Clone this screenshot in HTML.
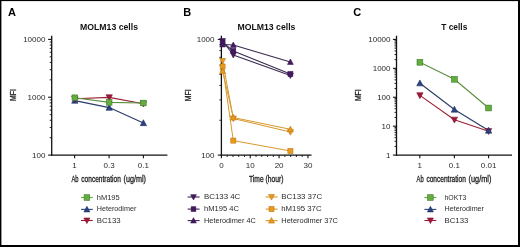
<!DOCTYPE html>
<html><head><meta charset="utf-8"><style>
html,body{margin:0;padding:0;background:#fff;width:520px;height:247px;overflow:hidden;}
svg{display:block;font-family:"Liberation Sans",sans-serif;filter:blur(0.3px);}
</style></head><body>
<svg width="520" height="247" viewBox="0 0 520 247" font-family="Liberation Sans, sans-serif">
<rect x="0" y="0" width="520" height="247" fill="#fff"/>
<rect x="0" y="0" width="520" height="1.1" fill="#000"/>
<rect x="0" y="0" width="1.4" height="247" fill="#000"/>
<rect x="518" y="0" width="2" height="247" fill="#000"/>
<rect x="0" y="245" width="520" height="2" fill="#000"/>
<text x="8.1" y="15.9" font-size="11" text-anchor="start" font-weight="bold" fill="#000" >A</text>
<text x="183.2" y="16.0" font-size="11" text-anchor="start" font-weight="bold" fill="#000" >B</text>
<text x="353.3" y="16.0" font-size="11" text-anchor="start" font-weight="bold" fill="#000" >C</text>
<text x="80" y="29.6" font-size="8.4" text-anchor="start" font-weight="bold" fill="#111" textLength="58" lengthAdjust="spacingAndGlyphs" >MOLM13 cells</text>
<text x="237.4" y="29.6" font-size="8.4" text-anchor="start" font-weight="bold" fill="#111" textLength="58" lengthAdjust="spacingAndGlyphs" >MOLM13 cells</text>
<text x="441.3" y="29.6" font-size="8.4" text-anchor="start" font-weight="bold" fill="#111" textLength="26" lengthAdjust="spacingAndGlyphs" >T cells</text>
<line x1="51.7" y1="35.7" x2="51.7" y2="155.7" stroke="#111" stroke-width="1.3"/>
<line x1="48.1" y1="39.4" x2="51.7" y2="39.4" stroke="#111" stroke-width="1.1"/>
<text x="45.4" y="42.199999999999996" font-size="8" text-anchor="end" font-weight="normal" fill="#2a2a2a" >10000</text>
<line x1="48.1" y1="97.25" x2="51.7" y2="97.25" stroke="#111" stroke-width="1.1"/>
<text x="45.4" y="100.05" font-size="8" text-anchor="end" font-weight="normal" fill="#2a2a2a" >1000</text>
<line x1="48.1" y1="155.1" x2="51.7" y2="155.1" stroke="#111" stroke-width="1.1"/>
<text x="45.4" y="157.9" font-size="8" text-anchor="end" font-weight="normal" fill="#2a2a2a" >100</text>
<line x1="49.7" y1="79.83541475083868" x2="51.7" y2="79.83541475083868" stroke="#111" stroke-width="0.9"/>
<line x1="49.7" y1="69.64853541446753" x2="51.7" y2="69.64853541446753" stroke="#111" stroke-width="0.9"/>
<line x1="49.7" y1="62.420829501677375" x2="51.7" y2="62.420829501677375" stroke="#111" stroke-width="0.9"/>
<line x1="49.7" y1="56.81458524916131" x2="51.7" y2="56.81458524916131" stroke="#111" stroke-width="0.9"/>
<line x1="49.7" y1="52.23395016530621" x2="51.7" y2="52.23395016530621" stroke="#111" stroke-width="0.9"/>
<line x1="49.7" y1="48.36107838517524" x2="51.7" y2="48.36107838517524" stroke="#111" stroke-width="0.9"/>
<line x1="49.7" y1="45.00624425251606" x2="51.7" y2="45.00624425251606" stroke="#111" stroke-width="0.9"/>
<line x1="49.7" y1="42.047070828935055" x2="51.7" y2="42.047070828935055" stroke="#111" stroke-width="0.9"/>
<line x1="49.7" y1="137.68541475083867" x2="51.7" y2="137.68541475083867" stroke="#111" stroke-width="0.9"/>
<line x1="49.7" y1="127.49853541446753" x2="51.7" y2="127.49853541446753" stroke="#111" stroke-width="0.9"/>
<line x1="49.7" y1="120.27082950167738" x2="51.7" y2="120.27082950167738" stroke="#111" stroke-width="0.9"/>
<line x1="49.7" y1="114.6645852491613" x2="51.7" y2="114.6645852491613" stroke="#111" stroke-width="0.9"/>
<line x1="49.7" y1="110.08395016530622" x2="51.7" y2="110.08395016530622" stroke="#111" stroke-width="0.9"/>
<line x1="49.7" y1="106.21107838517524" x2="51.7" y2="106.21107838517524" stroke="#111" stroke-width="0.9"/>
<line x1="49.7" y1="102.85624425251606" x2="51.7" y2="102.85624425251606" stroke="#111" stroke-width="0.9"/>
<line x1="49.7" y1="99.89707082893506" x2="51.7" y2="99.89707082893506" stroke="#111" stroke-width="0.9"/>
<line x1="51.1" y1="155.1" x2="167.4" y2="155.1" stroke="#111" stroke-width="1.3"/>
<line x1="74.6" y1="155.1" x2="74.6" y2="158.29999999999998" stroke="#111" stroke-width="1.1"/>
<text x="74.6" y="168.2" font-size="8" text-anchor="middle" font-weight="normal" fill="#2a2a2a" >1</text>
<line x1="109.1" y1="155.1" x2="109.1" y2="158.29999999999998" stroke="#111" stroke-width="1.1"/>
<text x="109.1" y="168.2" font-size="8" text-anchor="middle" font-weight="normal" fill="#2a2a2a" >0.3</text>
<line x1="143.4" y1="155.1" x2="143.4" y2="158.29999999999998" stroke="#111" stroke-width="1.1"/>
<text x="143.4" y="168.2" font-size="8" text-anchor="middle" font-weight="normal" fill="#2a2a2a" >0.1</text>
<text x="71.4" y="181.6" font-size="9.0" text-anchor="start" font-weight="normal" fill="#1a1a1a" textLength="7.1" lengthAdjust="spacingAndGlyphs" stroke="#1a1a1a" stroke-width="0.3" >Ab</text>
<text x="81.3" y="181.6" font-size="9.0" text-anchor="start" font-weight="normal" fill="#1a1a1a" textLength="39.5" lengthAdjust="spacingAndGlyphs" stroke="#1a1a1a" stroke-width="0.3" >concentration</text>
<text x="123.6" y="181.6" font-size="9.0" text-anchor="start" font-weight="normal" fill="#1a1a1a" textLength="22.4" lengthAdjust="spacingAndGlyphs" stroke="#1a1a1a" stroke-width="0.3" >(ug/ml)</text>
<text x="0" y="0" font-size="8.2" font-weight="normal" stroke="#222" stroke-width="0.3" text-anchor="middle" fill="#222" textLength="11.8" lengthAdjust="spacingAndGlyphs" transform="translate(15.8,95.0) rotate(-90)">MFI</text>
<line x1="221.4" y1="35.7" x2="221.4" y2="155.7" stroke="#111" stroke-width="1.3"/>
<line x1="217.8" y1="39.4" x2="221.4" y2="39.4" stroke="#111" stroke-width="1.1"/>
<text x="214.5" y="42.199999999999996" font-size="8" text-anchor="end" font-weight="normal" fill="#2a2a2a" >1000</text>
<line x1="217.8" y1="155.1" x2="221.4" y2="155.1" stroke="#111" stroke-width="1.1"/>
<text x="214.5" y="157.9" font-size="8" text-anchor="end" font-weight="normal" fill="#2a2a2a" >100</text>
<line x1="219.4" y1="120.27082950167738" x2="221.4" y2="120.27082950167738" stroke="#111" stroke-width="0.9"/>
<line x1="219.4" y1="99.89707082893506" x2="221.4" y2="99.89707082893506" stroke="#111" stroke-width="0.9"/>
<line x1="219.4" y1="85.44165900335476" x2="221.4" y2="85.44165900335476" stroke="#111" stroke-width="0.9"/>
<line x1="219.4" y1="74.22917049832262" x2="221.4" y2="74.22917049832262" stroke="#111" stroke-width="0.9"/>
<line x1="219.4" y1="65.06790033061243" x2="221.4" y2="65.06790033061243" stroke="#111" stroke-width="0.9"/>
<line x1="219.4" y1="57.32215677035049" x2="221.4" y2="57.32215677035049" stroke="#111" stroke-width="0.9"/>
<line x1="219.4" y1="50.61248850503213" x2="221.4" y2="50.61248850503213" stroke="#111" stroke-width="0.9"/>
<line x1="219.4" y1="44.69414165787012" x2="221.4" y2="44.69414165787012" stroke="#111" stroke-width="0.9"/>
<line x1="220.8" y1="155.1" x2="311.5" y2="155.1" stroke="#111" stroke-width="1.3"/>
<line x1="221.4" y1="155.1" x2="221.4" y2="158.29999999999998" stroke="#111" stroke-width="1.1"/>
<text x="221.4" y="168.2" font-size="8" text-anchor="middle" font-weight="normal" fill="#2a2a2a" >0</text>
<line x1="227.17000000000002" y1="155.1" x2="227.17000000000002" y2="157.0" stroke="#111" stroke-width="0.9"/>
<line x1="232.94" y1="155.1" x2="232.94" y2="157.0" stroke="#111" stroke-width="0.9"/>
<line x1="238.71" y1="155.1" x2="238.71" y2="157.0" stroke="#111" stroke-width="0.9"/>
<line x1="244.48000000000002" y1="155.1" x2="244.48000000000002" y2="157.0" stroke="#111" stroke-width="0.9"/>
<line x1="250.25" y1="155.1" x2="250.25" y2="158.29999999999998" stroke="#111" stroke-width="1.1"/>
<text x="250.25" y="168.2" font-size="8" text-anchor="middle" font-weight="normal" fill="#2a2a2a" >10</text>
<line x1="256.02" y1="155.1" x2="256.02" y2="157.0" stroke="#111" stroke-width="0.9"/>
<line x1="261.79" y1="155.1" x2="261.79" y2="157.0" stroke="#111" stroke-width="0.9"/>
<line x1="267.56" y1="155.1" x2="267.56" y2="157.0" stroke="#111" stroke-width="0.9"/>
<line x1="273.33" y1="155.1" x2="273.33" y2="157.0" stroke="#111" stroke-width="0.9"/>
<line x1="279.1" y1="155.1" x2="279.1" y2="158.29999999999998" stroke="#111" stroke-width="1.1"/>
<text x="279.1" y="168.2" font-size="8" text-anchor="middle" font-weight="normal" fill="#2a2a2a" >20</text>
<line x1="284.87" y1="155.1" x2="284.87" y2="157.0" stroke="#111" stroke-width="0.9"/>
<line x1="290.64" y1="155.1" x2="290.64" y2="157.0" stroke="#111" stroke-width="0.9"/>
<line x1="296.40999999999997" y1="155.1" x2="296.40999999999997" y2="157.0" stroke="#111" stroke-width="0.9"/>
<line x1="302.18" y1="155.1" x2="302.18" y2="157.0" stroke="#111" stroke-width="0.9"/>
<line x1="307.95" y1="155.1" x2="307.95" y2="158.29999999999998" stroke="#111" stroke-width="1.1"/>
<text x="307.95" y="168.2" font-size="8" text-anchor="middle" font-weight="normal" fill="#2a2a2a" >30</text>
<text x="249.0" y="181.5" font-size="8.9" text-anchor="start" font-weight="normal" fill="#1a1a1a" textLength="14.6" lengthAdjust="spacingAndGlyphs" stroke="#1a1a1a" stroke-width="0.3" >Time</text>
<text x="265.6" y="181.5" font-size="8.9" text-anchor="start" font-weight="normal" fill="#1a1a1a" textLength="17.9" lengthAdjust="spacingAndGlyphs" stroke="#1a1a1a" stroke-width="0.3" >(hour)</text>
<text x="0" y="0" font-size="8.2" font-weight="normal" stroke="#222" stroke-width="0.3" text-anchor="middle" fill="#222" textLength="11.8" lengthAdjust="spacingAndGlyphs" transform="translate(190.6,95.3) rotate(-90)">MFI</text>
<line x1="396.5" y1="35.7" x2="396.5" y2="155.7" stroke="#111" stroke-width="1.3"/>
<line x1="392.9" y1="39.4" x2="396.5" y2="39.4" stroke="#111" stroke-width="1.1"/>
<text x="390.5" y="42.199999999999996" font-size="8" text-anchor="end" font-weight="normal" fill="#2a2a2a" >10000</text>
<line x1="392.9" y1="68.32499999999999" x2="396.5" y2="68.32499999999999" stroke="#111" stroke-width="1.1"/>
<text x="390.5" y="71.12499999999999" font-size="8" text-anchor="end" font-weight="normal" fill="#2a2a2a" >1000</text>
<line x1="392.9" y1="97.25" x2="396.5" y2="97.25" stroke="#111" stroke-width="1.1"/>
<text x="390.5" y="100.05" font-size="8" text-anchor="end" font-weight="normal" fill="#2a2a2a" >100</text>
<line x1="392.9" y1="126.17499999999998" x2="396.5" y2="126.17499999999998" stroke="#111" stroke-width="1.1"/>
<text x="390.5" y="128.975" font-size="8" text-anchor="end" font-weight="normal" fill="#2a2a2a" >10</text>
<line x1="392.9" y1="155.1" x2="396.5" y2="155.1" stroke="#111" stroke-width="1.1"/>
<text x="390.5" y="157.9" font-size="8" text-anchor="end" font-weight="normal" fill="#2a2a2a" >1</text>
<line x1="394.5" y1="59.617707375419336" x2="396.5" y2="59.617707375419336" stroke="#111" stroke-width="0.9"/>
<line x1="394.5" y1="54.52426770723376" x2="396.5" y2="54.52426770723376" stroke="#111" stroke-width="0.9"/>
<line x1="394.5" y1="50.91041475083868" x2="396.5" y2="50.91041475083868" stroke="#111" stroke-width="0.9"/>
<line x1="394.5" y1="48.10729262458065" x2="396.5" y2="48.10729262458065" stroke="#111" stroke-width="0.9"/>
<line x1="394.5" y1="45.8169750826531" x2="396.5" y2="45.8169750826531" stroke="#111" stroke-width="0.9"/>
<line x1="394.5" y1="43.88053919258762" x2="396.5" y2="43.88053919258762" stroke="#111" stroke-width="0.9"/>
<line x1="394.5" y1="42.20312212625803" x2="396.5" y2="42.20312212625803" stroke="#111" stroke-width="0.9"/>
<line x1="394.5" y1="40.72353541446753" x2="396.5" y2="40.72353541446753" stroke="#111" stroke-width="0.9"/>
<line x1="394.5" y1="88.54270737541934" x2="396.5" y2="88.54270737541934" stroke="#111" stroke-width="0.9"/>
<line x1="394.5" y1="83.44926770723376" x2="396.5" y2="83.44926770723376" stroke="#111" stroke-width="0.9"/>
<line x1="394.5" y1="79.83541475083868" x2="396.5" y2="79.83541475083868" stroke="#111" stroke-width="0.9"/>
<line x1="394.5" y1="77.03229262458065" x2="396.5" y2="77.03229262458065" stroke="#111" stroke-width="0.9"/>
<line x1="394.5" y1="74.7419750826531" x2="396.5" y2="74.7419750826531" stroke="#111" stroke-width="0.9"/>
<line x1="394.5" y1="72.80553919258762" x2="396.5" y2="72.80553919258762" stroke="#111" stroke-width="0.9"/>
<line x1="394.5" y1="71.12812212625802" x2="396.5" y2="71.12812212625802" stroke="#111" stroke-width="0.9"/>
<line x1="394.5" y1="69.64853541446752" x2="396.5" y2="69.64853541446752" stroke="#111" stroke-width="0.9"/>
<line x1="394.5" y1="117.46770737541934" x2="396.5" y2="117.46770737541934" stroke="#111" stroke-width="0.9"/>
<line x1="394.5" y1="112.37426770723376" x2="396.5" y2="112.37426770723376" stroke="#111" stroke-width="0.9"/>
<line x1="394.5" y1="108.76041475083868" x2="396.5" y2="108.76041475083868" stroke="#111" stroke-width="0.9"/>
<line x1="394.5" y1="105.95729262458065" x2="396.5" y2="105.95729262458065" stroke="#111" stroke-width="0.9"/>
<line x1="394.5" y1="103.6669750826531" x2="396.5" y2="103.6669750826531" stroke="#111" stroke-width="0.9"/>
<line x1="394.5" y1="101.73053919258763" x2="396.5" y2="101.73053919258763" stroke="#111" stroke-width="0.9"/>
<line x1="394.5" y1="100.05312212625803" x2="396.5" y2="100.05312212625803" stroke="#111" stroke-width="0.9"/>
<line x1="394.5" y1="98.57353541446753" x2="396.5" y2="98.57353541446753" stroke="#111" stroke-width="0.9"/>
<line x1="394.5" y1="146.39270737541932" x2="396.5" y2="146.39270737541932" stroke="#111" stroke-width="0.9"/>
<line x1="394.5" y1="141.29926770723375" x2="396.5" y2="141.29926770723375" stroke="#111" stroke-width="0.9"/>
<line x1="394.5" y1="137.68541475083867" x2="396.5" y2="137.68541475083867" stroke="#111" stroke-width="0.9"/>
<line x1="394.5" y1="134.88229262458063" x2="396.5" y2="134.88229262458063" stroke="#111" stroke-width="0.9"/>
<line x1="394.5" y1="132.5919750826531" x2="396.5" y2="132.5919750826531" stroke="#111" stroke-width="0.9"/>
<line x1="394.5" y1="130.6555391925876" x2="396.5" y2="130.6555391925876" stroke="#111" stroke-width="0.9"/>
<line x1="394.5" y1="128.97812212625803" x2="396.5" y2="128.97812212625803" stroke="#111" stroke-width="0.9"/>
<line x1="394.5" y1="127.49853541446751" x2="396.5" y2="127.49853541446751" stroke="#111" stroke-width="0.9"/>
<line x1="395.9" y1="155.1" x2="512.0" y2="155.1" stroke="#111" stroke-width="1.3"/>
<line x1="419.8" y1="155.1" x2="419.8" y2="158.29999999999998" stroke="#111" stroke-width="1.1"/>
<text x="419.8" y="168.2" font-size="8" text-anchor="middle" font-weight="normal" fill="#2a2a2a" >1</text>
<line x1="454.4" y1="155.1" x2="454.4" y2="158.29999999999998" stroke="#111" stroke-width="1.1"/>
<text x="454.4" y="168.2" font-size="8" text-anchor="middle" font-weight="normal" fill="#2a2a2a" >0.1</text>
<line x1="488.6" y1="155.1" x2="488.6" y2="158.29999999999998" stroke="#111" stroke-width="1.1"/>
<text x="488.6" y="168.2" font-size="8" text-anchor="middle" font-weight="normal" fill="#2a2a2a" >0.01</text>
<text x="416.6" y="181.6" font-size="9.0" text-anchor="start" font-weight="normal" fill="#1a1a1a" textLength="7.1" lengthAdjust="spacingAndGlyphs" stroke="#1a1a1a" stroke-width="0.3" >Ab</text>
<text x="426.4" y="181.6" font-size="9.0" text-anchor="start" font-weight="normal" fill="#1a1a1a" textLength="39.5" lengthAdjust="spacingAndGlyphs" stroke="#1a1a1a" stroke-width="0.3" >concentration</text>
<text x="468.6" y="181.6" font-size="9.0" text-anchor="start" font-weight="normal" fill="#1a1a1a" textLength="22.8" lengthAdjust="spacingAndGlyphs" stroke="#1a1a1a" stroke-width="0.3" >(ug/ml)</text>
<text x="0" y="0" font-size="8.2" font-weight="normal" stroke="#222" stroke-width="0.3" text-anchor="middle" fill="#222" textLength="11.8" lengthAdjust="spacingAndGlyphs" transform="translate(360.8,95.2) rotate(-90)">MFI</text>
<polyline points="74.80,98.80 109.20,97.40 143.40,103.80" fill="none" stroke="#9a2236" stroke-width="1.15" stroke-linejoin="round"/>
<polyline points="74.80,97.70 109.20,102.40 143.40,103.00" fill="none" stroke="#5a9040" stroke-width="1.15" stroke-linejoin="round"/>
<polyline points="74.80,100.60 109.20,107.60 143.40,123.00" fill="none" stroke="#2b3c68" stroke-width="1.15" stroke-linejoin="round"/>
<polygon points="74.80,97.35 77.95,103.25 71.65,103.25" fill="#2b4383" stroke="#1d2d5c" stroke-width="0.6"/>
<polygon points="109.20,104.35 112.35,110.25 106.05,110.25" fill="#2b4383" stroke="#1d2d5c" stroke-width="0.6"/>
<polygon points="143.40,119.75 146.55,125.65 140.25,125.65" fill="#2b4383" stroke="#1d2d5c" stroke-width="0.6"/>
<polygon points="71.65,96.15 77.95,96.15 74.80,102.05" fill="#a3163a" stroke="#7a1028" stroke-width="0.6"/>
<polygon points="106.05,94.75 112.35,94.75 109.20,100.65" fill="#a3163a" stroke="#7a1028" stroke-width="0.6"/>
<polygon points="140.25,101.15 146.55,101.15 143.40,107.05" fill="#a3163a" stroke="#7a1028" stroke-width="0.6"/>
<rect x="72.00" y="94.90" width="5.60" height="5.60" fill="#62ad3e" stroke="#3f7a2a" stroke-width="0.6"/>
<rect x="106.40" y="99.60" width="5.60" height="5.60" fill="#62ad3e" stroke="#3f7a2a" stroke-width="0.6"/>
<rect x="140.60" y="100.20" width="5.60" height="5.60" fill="#62ad3e" stroke="#3f7a2a" stroke-width="0.6"/>
<polyline points="222.60,71.00 233.30,117.50 290.40,129.30" fill="none" stroke="#d9982c" stroke-width="1.0" stroke-linejoin="round"/>
<polyline points="222.60,66.50 233.30,140.60 290.40,151.00" fill="none" stroke="#d9982c" stroke-width="1.0" stroke-linejoin="round"/>
<polyline points="222.60,61.00 233.30,118.50 290.40,132.00" fill="none" stroke="#d9982c" stroke-width="1.0" stroke-linejoin="round"/>
<polyline points="222.60,44.50 233.30,45.00 290.40,62.00" fill="none" stroke="#3a2a50" stroke-width="1.1" stroke-linejoin="round"/>
<polyline points="222.60,42.50 233.30,51.00 290.40,74.00" fill="none" stroke="#3a2a50" stroke-width="1.1" stroke-linejoin="round"/>
<polyline points="222.60,41.00 233.30,55.00 290.40,75.50" fill="none" stroke="#3a2a50" stroke-width="1.1" stroke-linejoin="round"/>
<polygon points="219.60,58.50 225.60,58.50 222.60,64.10" fill="#e79a1d" stroke="#c07a10" stroke-width="0.6"/>
<polygon points="230.25,115.95 236.35,115.95 233.30,121.65" fill="#e79a1d" stroke="#c07a10" stroke-width="0.6"/>
<polygon points="287.35,129.45 293.45,129.45 290.40,135.15" fill="#e79a1d" stroke="#c07a10" stroke-width="0.6"/>
<rect x="220.10" y="64.00" width="5.00" height="5.00" fill="#e79a1d" stroke="#c07a10" stroke-width="0.6"/>
<rect x="230.75" y="138.05" width="5.10" height="5.10" fill="#e79a1d" stroke="#c07a10" stroke-width="0.6"/>
<rect x="287.85" y="148.45" width="5.10" height="5.10" fill="#e79a1d" stroke="#c07a10" stroke-width="0.6"/>
<polygon points="222.60,67.90 225.60,73.50 219.60,73.50" fill="#e79a1d" stroke="#c07a10" stroke-width="0.6"/>
<polygon points="233.30,114.35 236.35,120.05 230.25,120.05" fill="#e79a1d" stroke="#c07a10" stroke-width="0.6"/>
<polygon points="290.40,126.15 293.45,131.85 287.35,131.85" fill="#e79a1d" stroke="#c07a10" stroke-width="0.6"/>
<polygon points="219.70,38.60 225.50,38.60 222.60,44.00" fill="#45195f" stroke="#351450" stroke-width="0.6"/>
<polygon points="230.40,52.60 236.20,52.60 233.30,58.00" fill="#45195f" stroke="#351450" stroke-width="0.6"/>
<polygon points="287.50,73.10 293.30,73.10 290.40,78.50" fill="#45195f" stroke="#351450" stroke-width="0.6"/>
<rect x="220.15" y="40.05" width="4.90" height="4.90" fill="#45195f" stroke="#351450" stroke-width="0.6"/>
<rect x="230.85" y="48.55" width="4.90" height="4.90" fill="#45195f" stroke="#351450" stroke-width="0.6"/>
<rect x="287.95" y="71.55" width="4.90" height="4.90" fill="#45195f" stroke="#351450" stroke-width="0.6"/>
<polygon points="222.60,41.50 225.50,46.90 219.70,46.90" fill="#45195f" stroke="#351450" stroke-width="0.6"/>
<polygon points="233.30,42.00 236.20,47.40 230.40,47.40" fill="#45195f" stroke="#351450" stroke-width="0.6"/>
<polygon points="290.40,59.00 293.30,64.40 287.50,64.40" fill="#45195f" stroke="#351450" stroke-width="0.6"/>
<polyline points="419.90,62.30 454.40,79.30 488.60,108.00" fill="none" stroke="#5a9040" stroke-width="1.15" stroke-linejoin="round"/>
<polyline points="419.90,95.40 454.40,119.80 488.60,131.20" fill="none" stroke="#9a2236" stroke-width="1.15" stroke-linejoin="round"/>
<polyline points="419.90,83.20 454.40,109.50 488.60,130.50" fill="none" stroke="#2b3c68" stroke-width="1.15" stroke-linejoin="round"/>
<polygon points="416.75,92.75 423.05,92.75 419.90,98.65" fill="#a3163a" stroke="#7a1028" stroke-width="0.6"/>
<polygon points="451.25,117.15 457.55,117.15 454.40,123.05" fill="#a3163a" stroke="#7a1028" stroke-width="0.6"/>
<polygon points="485.45,128.55 491.75,128.55 488.60,134.45" fill="#a3163a" stroke="#7a1028" stroke-width="0.6"/>
<polygon points="419.90,79.95 423.05,85.85 416.75,85.85" fill="#2b4383" stroke="#1d2d5c" stroke-width="0.6"/>
<polygon points="454.40,106.25 457.55,112.15 451.25,112.15" fill="#2b4383" stroke="#1d2d5c" stroke-width="0.6"/>
<polygon points="488.60,127.25 491.75,133.15 485.45,133.15" fill="#2b4383" stroke="#1d2d5c" stroke-width="0.6"/>
<rect x="417.00" y="59.40" width="5.80" height="5.80" fill="#62ad3e" stroke="#3f7a2a" stroke-width="0.6"/>
<rect x="451.50" y="76.40" width="5.80" height="5.80" fill="#62ad3e" stroke="#3f7a2a" stroke-width="0.6"/>
<rect x="485.70" y="105.10" width="5.80" height="5.80" fill="#62ad3e" stroke="#3f7a2a" stroke-width="0.6"/>
<line x1="81.0" y1="197.5" x2="92.8" y2="197.5" stroke="#62ad3e" stroke-width="1.1"/>
<rect x="84.10" y="194.70" width="5.60" height="5.60" fill="#62ad3e" stroke="#3f7a2a" stroke-width="0.6"/>
<text x="96.8" y="199.5" font-size="7.6" text-anchor="start" font-weight="normal" fill="#2a2a2a" textLength="22.9" lengthAdjust="spacingAndGlyphs" >hM195</text>
<line x1="81.0" y1="209.4" x2="92.8" y2="209.4" stroke="#2b4383" stroke-width="1.1"/>
<polygon points="86.90,206.30 89.90,211.90 83.90,211.90" fill="#2b4383" stroke="#1d2d5c" stroke-width="0.6"/>
<text x="96.8" y="211.4" font-size="7.6" text-anchor="start" font-weight="normal" fill="#2a2a2a" textLength="39.5" lengthAdjust="spacingAndGlyphs" >Heterodimer</text>
<line x1="81.0" y1="220.5" x2="92.8" y2="220.5" stroke="#a3163a" stroke-width="1.1"/>
<polygon points="83.90,218.00 89.90,218.00 86.90,223.60" fill="#a3163a" stroke="#7a1028" stroke-width="0.6"/>
<text x="96.8" y="222.5" font-size="7.6" text-anchor="start" font-weight="normal" fill="#2a2a2a" textLength="23.8" lengthAdjust="spacingAndGlyphs" >BC133</text>
<line x1="424.4" y1="197.5" x2="436.3" y2="197.5" stroke="#62ad3e" stroke-width="1.1"/>
<rect x="427.60" y="194.70" width="5.60" height="5.60" fill="#62ad3e" stroke="#3f7a2a" stroke-width="0.6"/>
<text x="444.5" y="199.5" font-size="7.6" text-anchor="start" font-weight="normal" fill="#2a2a2a" textLength="21.9" lengthAdjust="spacingAndGlyphs" >hOKT3</text>
<line x1="424.4" y1="209.4" x2="436.3" y2="209.4" stroke="#2b4383" stroke-width="1.1"/>
<polygon points="430.40,206.30 433.40,211.90 427.40,211.90" fill="#2b4383" stroke="#1d2d5c" stroke-width="0.6"/>
<text x="444.5" y="211.4" font-size="7.6" text-anchor="start" font-weight="normal" fill="#2a2a2a" textLength="39.5" lengthAdjust="spacingAndGlyphs" >Heterodimer</text>
<line x1="424.4" y1="220.5" x2="436.3" y2="220.5" stroke="#a3163a" stroke-width="1.1"/>
<polygon points="427.40,218.00 433.40,218.00 430.40,223.60" fill="#a3163a" stroke="#7a1028" stroke-width="0.6"/>
<text x="444.5" y="222.5" font-size="7.6" text-anchor="start" font-weight="normal" fill="#2a2a2a" textLength="23.8" lengthAdjust="spacingAndGlyphs" >BC133</text>
<line x1="187.6" y1="197.0" x2="199.6" y2="197.0" stroke="#3a2a50" stroke-width="1.1"/>
<polygon points="190.65,194.65 196.35,194.65 193.50,199.95" fill="#45195f" stroke="#351450" stroke-width="0.6"/>
<text x="204.0" y="199.0" font-size="7.6" text-anchor="start" font-weight="normal" fill="#2a2a2a" textLength="36.3" lengthAdjust="spacingAndGlyphs" >BC133 4C</text>
<line x1="187.6" y1="209.1" x2="199.6" y2="209.1" stroke="#3a2a50" stroke-width="1.1"/>
<rect x="191.15" y="206.75" width="4.70" height="4.70" fill="#45195f" stroke="#351450" stroke-width="0.6"/>
<text x="204.0" y="211.1" font-size="7.6" text-anchor="start" font-weight="normal" fill="#2a2a2a" textLength="34.9" lengthAdjust="spacingAndGlyphs" >hM195 4C</text>
<line x1="187.6" y1="220.6" x2="199.6" y2="220.6" stroke="#3a2a50" stroke-width="1.1"/>
<polygon points="193.50,217.65 196.35,222.95 190.65,222.95" fill="#45195f" stroke="#351450" stroke-width="0.6"/>
<text x="204.0" y="222.6" font-size="7.6" text-anchor="start" font-weight="normal" fill="#2a2a2a" textLength="51.8" lengthAdjust="spacingAndGlyphs" >Heterodimer 4C</text>
<line x1="265.6" y1="197.0" x2="277.6" y2="197.0" stroke="#d9982c" stroke-width="1.1"/>
<polygon points="268.50,194.50 274.50,194.50 271.50,200.10" fill="#e79a1d" stroke="#c07a10" stroke-width="0.6"/>
<text x="281.3" y="199.0" font-size="7.6" text-anchor="start" font-weight="normal" fill="#2a2a2a" textLength="40.8" lengthAdjust="spacingAndGlyphs" >BC133 37C</text>
<line x1="265.6" y1="209.1" x2="277.6" y2="209.1" stroke="#d9982c" stroke-width="1.1"/>
<rect x="269.00" y="206.60" width="5.00" height="5.00" fill="#e79a1d" stroke="#c07a10" stroke-width="0.6"/>
<text x="281.3" y="211.1" font-size="7.6" text-anchor="start" font-weight="normal" fill="#2a2a2a" textLength="40.2" lengthAdjust="spacingAndGlyphs" >hM195 37C</text>
<line x1="265.6" y1="220.6" x2="277.6" y2="220.6" stroke="#d9982c" stroke-width="1.1"/>
<polygon points="271.50,217.50 274.50,223.10 268.50,223.10" fill="#e79a1d" stroke="#c07a10" stroke-width="0.6"/>
<text x="281.3" y="222.6" font-size="7.6" text-anchor="start" font-weight="normal" fill="#2a2a2a" textLength="56.7" lengthAdjust="spacingAndGlyphs" >Heterodimer 37C</text>
</svg>
</body></html>
